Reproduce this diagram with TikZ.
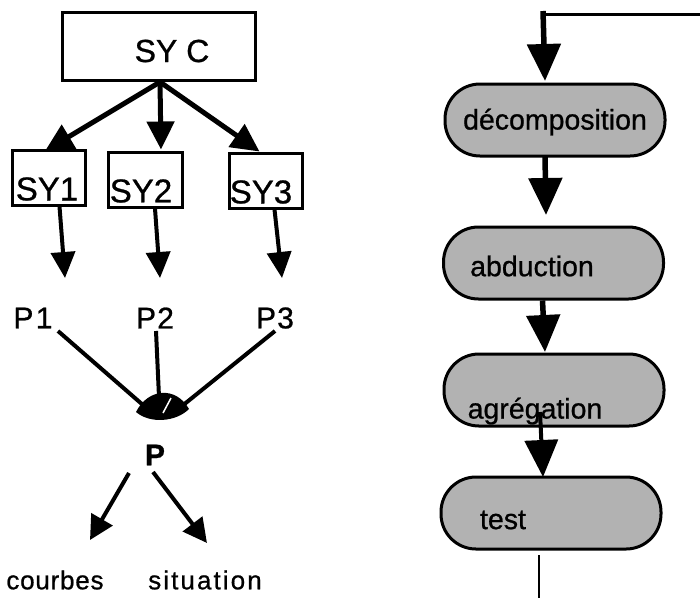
\documentclass[tikz,border=0pt]{standalone}
\usepackage{fontspec}
\setmainfont{Liberation Sans}[FakeBold=0.8]
\usetikzlibrary{arrows.meta}
\tikzset{
  sqbox/.style={draw, line width=3pt, minimum width=#1, inner sep=0pt},
  pill/.style={draw, line width=3pt, fill=black!30, rounded corners=35pt, minimum width=220pt, minimum height=72pt, inner sep=0pt},
  lbl/.style={inner sep=0pt, font=\fontsize{28.5}{30}\selectfont},
  arrA/.style={line width=5pt, -{Triangle[width=27pt,length=28pt]}},
  arrB/.style={line width=4pt, -{Triangle[width=24pt,length=26pt]}},
  arrC/.style={line width=5.5pt, -{Triangle[width=33pt,length=37pt]}},
  arrD/.style={line width=4pt, -{Triangle[width=24pt,length=24pt]}},
  plain/.style={line width=4pt},
}
\begin{document}
\begin{tikzpicture}[x=1pt,y=-1pt]
\useasboundingbox (0,0) rectangle (700,598);
% ---------- left part ----------
\node[sqbox=193pt, minimum height=68pt] (syc) at (158.5,46) {};
\node[lbl, font=\fontsize{32}{34}\selectfont] (syct) at (172,51) {SY C};
\node[sqbox=73pt, minimum height=55pt] (sy1) at (48.5,177.5) {};
\node[sqbox=74pt, minimum height=55pt] (sy2) at (145,179.5) {};
\node[sqbox=73pt, minimum height=55pt] (sy3) at (265.5,180.5) {};
\node[lbl, font=\fontsize{33}{35}\selectfont] (sy1t) at (47,189) {SY1};
\node[lbl, font=\fontsize{33}{35}\selectfont] (sy2t) at (141,191) {SY2};
\node[lbl, font=\fontsize{33}{35}\selectfont] (sy3t) at (261,192) {SY3};
\coordinate (src) at (160,82);
\draw[arrA] (src) -- (45,151);
\draw[arrA] (src) -- ([xshift=16pt,yshift=1pt]sy2.north);
\draw[arrA] (src) -- ([xshift=-6pt]sy3.north);
% SY -> P arrows
\coordinate (e1) at (65,278);
\coordinate (e2) at (160,278);
\coordinate (e3) at (282,278);
\draw[arrB] ([xshift=11pt]sy1.south) -- (e1);
\draw[arrB] ([xshift=10pt]sy2.south) -- (e2);
\draw[arrB] ([xshift=9pt]sy3.south) -- (e3);
% P1 P2 P3
\node[lbl, font=\addfontfeature{LetterSpace=8}\fontsize{30}{32}\selectfont] (p1) at (33,318) {P1};
\node[lbl, font=\addfontfeature{LetterSpace=4}\fontsize{30}{32}\selectfont] (p2) at (155,318) {P2};
\node[lbl, font=\addfontfeature{LetterSpace=4}\fontsize{30}{32}\selectfont] (p3) at (275,318) {P3};
% lens
\coordinate (agg) at (162,408);
\fill (136,412) .. controls (148,388) and (176,386) .. (189,409) .. controls (176,422) and (150,424) .. (136,412) -- cycle;
\draw[white, line width=1.5pt] (171,398) -- (163,413);
\draw[plain] (58,331) -- (143,405);
\draw[plain] (156,331) -- (159,397);
\draw[plain] (275,331) -- (182,406);
% P and outputs
\node[lbl, font=\bfseries\fontsize{30}{32}\selectfont] (p) at (155,455) {P};
\node[lbl, font=\addfontfeature{LetterSpace=3}\fontsize{26}{28}\selectfont] (cb) at (55,580) {courbes};
\node[lbl, font=\addfontfeature{LetterSpace=8}\fontsize{26}{28}\selectfont] (st) at (205,580) {situation};
\draw[arrD] (129,473) -- (90,540);
\draw[arrD] (153,472) -- (207,543);
% ---------- right part ----------
\node[pill] (dec) at (555,120) {};
\node[pill] (abd) at (553.5,263) {};
\node[pill] (agr) at (554,390) {};
\node[pill] (tst) at (551,513) {};
\node[lbl] (dect) at (555,122) {décomposition};
\node[lbl] (abdt) at (532,266) {abduction};
\node[lbl] (agrt) at (535,411) {agrégation};
\node[lbl] (tstt) at (503,520) {test};
\coordinate (tr) at (700,14);
\coordinate (ta) at (545,81);
\draw[line width=3pt] (tr) -- (543,14);
\draw[arrC] (543,11) -- (ta);
\draw[arrC] (545,156) -- (546,215);
\draw[arrC] ([xshift=-11pt]abd.south) -- (545,352);
\draw[arrC, line width=4pt] (540,412) -- (543,477);
\coordinate (bot) at (539,598);
\draw[line width=2.5pt] (539,555) -- (bot);
\end{tikzpicture}
\end{document}
